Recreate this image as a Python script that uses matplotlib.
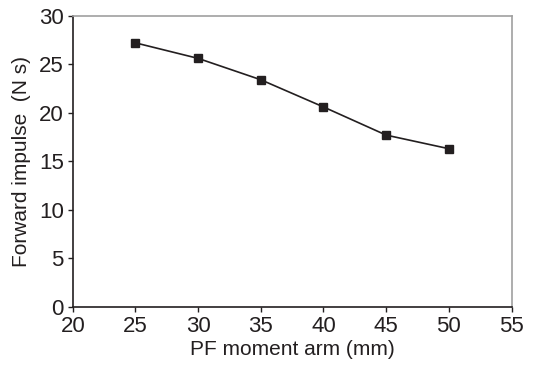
import matplotlib
matplotlib.use("Agg")
import matplotlib.pyplot as plt

# PF moment arm (mm) vs forward impulse (N s)
moment_arm = [25, 30, 35, 40, 45, 50]
impulse = [27.2, 25.6, 23.4, 20.6, 17.7, 16.3]
x_ticks = [20, 25, 30, 35, 40, 45, 50, 55]
y_ticks = [0, 5, 10, 15, 20, 25, 30]

plt.rcParams['font.family'] = ['Liberation Sans', 'DejaVu Sans']
dark = '#231f20'

fig = plt.figure(figsize=(5.43, 3.73), dpi=100)
ax = fig.add_axes([0.134, 0.177, 0.808, 0.781])
ax.plot(moment_arm, impulse, color=dark, lw=1.2, marker='s', ms=6,
        mfc=dark, mec=dark)

ax.set_xlim(20, 55)
ax.set_ylim(0, 30)
ax.set_xticks(x_ticks)
ax.set_yticks(y_ticks)
ax.tick_params(axis='both', labelsize=16, colors=dark, direction='out',
               length=3.5, width=1, pad=3)
for side in ['left', 'bottom']:
    ax.spines[side].set_color(dark)
    ax.spines[side].set_linewidth(1.2)
for side in ['top', 'right']:
    ax.spines[side].set_color('#a0a0a0')
    ax.spines[side].set_linewidth(1.2)

ax.set_xlabel("PF moment arm (mm)", fontsize=15, color=dark, labelpad=2)
ax.set_ylabel("Forward impulse  (N s)", fontsize=15, color=dark, labelpad=6)

fig.savefig("out.png", dpi=100)
